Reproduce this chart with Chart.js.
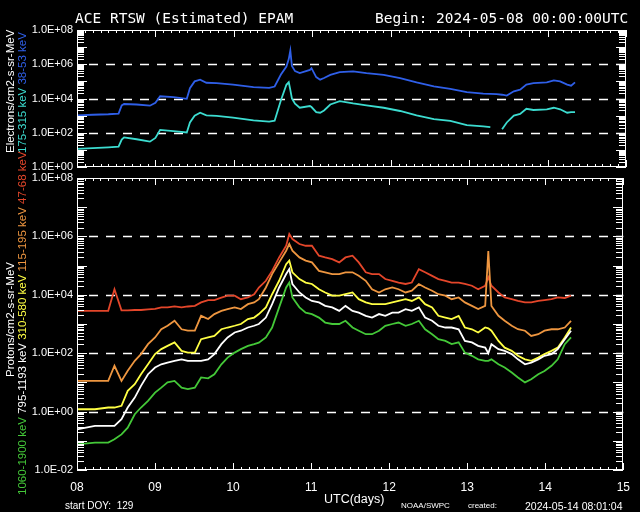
<!DOCTYPE html>
<html>
<head>
<meta charset="utf-8">
<script src="https://cdn.jsdelivr.net/npm/chart.js@4/dist/chart.umd.min.js"></script>
<style>
  html, body { margin: 0; padding: 0; background: #000; }
  #wrap { position: relative; width: 640px; height: 512px; background: #000; overflow: hidden; color: #fff; }
  #wrap canvas { position: absolute; left: 0; top: 0; }
  .t { position: absolute; white-space: nowrap; line-height: 1; }
  .mono { font-family: "DejaVu Sans Mono", monospace; }
  .sans { font-family: "Liberation Sans", "DejaVu Sans", sans-serif; }
</style>
</head>
<body>
<div id="wrap">
  <canvas id="topChart" width="640" height="512"></canvas>
  <canvas id="botChart" width="640" height="512"></canvas>
  <canvas id="frameLayer" width="640" height="512"></canvas>
  <div class="t mono" style="left:75px;top:11px;font-size:14.5px">ACE RTSW (Estimated) EPAM</div>
  <div class="t mono" style="left:375px;top:11px;font-size:14.5px">Begin: 2024-05-08 00:00:00UTC</div>
  <div class="t sans" style="left:65px;top:501px;font-size:10px">start DOY:&nbsp;&nbsp;129</div>
  <div class="t sans" style="left:324px;top:493px;font-size:12.5px">UTC(days)</div>
  <div class="t sans" style="left:401px;top:502px;font-size:8px">NOAA/SWPC</div>
  <div class="t sans" style="left:468px;top:502px;font-size:8px">created:</div>
  <div class="t sans" style="left:525px;top:501px;font-size:10.5px">2024-05-14 08:01:04</div>
</div>
<script>
// UTC day of May 2024 (fractional)
const topDays = [8.0, 8.2, 8.4, 8.53, 8.57, 8.6, 8.76, 8.93, 9.0, 9.06, 9.23, 9.4, 9.44, 9.5, 9.57,
  9.65, 9.78, 9.99, 10.25, 10.45, 10.52, 10.6, 10.67, 10.7, 10.72, 10.74, 10.78, 10.84, 10.97,
  10.99, 11.05, 11.1, 11.15, 11.23, 11.35, 11.52, 11.69, 11.91, 12.12, 12.33, 12.55, 12.76,
  12.97, 13.18, 13.27, 13.35, 13.42, 13.48, 13.57, 13.65, 13.73, 13.82, 13.99, 14.08, 14.16,
  14.25, 14.3, 14.35];

// electrons, log10(flux)
const e38 = [3.02, 3.05, 3.08, 3.12, 3.6, 3.68, 3.65, 3.58, 3.75, 4.13, 4.08, 3.98, 4.6, 5.0, 5.1,
  4.92, 4.9, 4.81, 4.67, 4.62, 4.7, 5.4, 5.87, 6.3, 6.8, 5.9, 5.6, 5.48, 5.67,
  5.77, 5.25, 5.1, 5.2, 5.38, 5.54, 5.58, 5.48, 5.38, 5.19, 4.94, 4.71, 4.56,
  4.37, 4.29, 4.27, 4.25, 4.22, 4.17, 4.42, 4.52, 4.81, 4.9, 4.94, 5.06, 5.0,
  4.81, 4.75, 4.94];
const e175 = [1.06, 1.1, 1.15, 1.19, 1.6, 1.73, 1.62, 1.48, 1.7, 2.17, 2.1, 2.02, 2.6, 3.0, 3.17,
  3.02, 2.98, 2.88, 2.72, 2.65, 2.7, 3.9, 4.8, 4.95, 4.5, 4.0, 3.7, 3.46, 3.56,
  3.5, 3.2, 3.17, 3.3, 3.65, 3.85, 3.71, 3.6, 3.46, 3.27, 3.02, 2.79, 2.69,
  2.44, 2.37, 2.33, null, 2.21, 2.6, 3.0, 3.1, 3.4, 3.33, 3.37, 3.46, 3.37,
  3.17, 3.2, 3.21];

const botDays = [8.0, 8.23, 8.4, 8.48, 8.57, 8.65, 8.74, 8.82, 8.91, 9.0, 9.08, 9.16, 9.25, 9.34,
  9.42, 9.51, 9.59, 9.68, 9.76, 9.85, 9.93, 10.02, 10.1, 10.19, 10.27,
  10.33, 10.42, 10.5, 10.59, 10.68, 10.72, 10.76, 10.85, 10.93, 11.01, 11.1, 11.18, 11.27,
  11.36, 11.44, 11.53, 11.61, 11.7, 11.78, 11.87, 11.95, 12.04, 12.12, 12.21, 12.29, 12.38,
  12.46, 12.55,
  12.63, 12.72, 12.8, 12.89, 12.97, 13.06, 13.14, 13.23, 13.27, 13.31, 13.4, 13.48, 13.57,
  13.65, 13.74, 13.82, 13.91, 13.99, 14.08, 14.16, 14.25, 14.33];

// protons, log10(flux)
const p47 = [3.45, 3.45, 3.45, 4.19, 3.47, 3.47, 3.48, 3.48, 3.5, 3.52, 3.57, 3.57, 3.6, 3.57,
  3.6, 3.62, 3.74, 3.82, 3.82, 3.9, 3.97, 3.97, 3.85, 3.91, 4.02,
  4.25, 4.48, 4.82, 5.28, 5.68, 6.08, 5.91, 5.74, 5.68, 5.68, 5.34, 5.28, 5.22,
  5.11, 5.28, 5.34, 5.11, 4.77, 4.71, 4.71, 4.54, 4.48, 4.42, 4.37, 4.42, 4.88,
  4.77, 4.65,
  4.54, 4.48, 4.42, 4.42, 4.37, 4.31, 4.19, 4.31, 4.6, 4.31, 4.08, 3.91, 3.85,
  3.79, 3.74, 3.74, 3.79, 3.82, 3.85, 3.91, 3.89, 3.97];
const p115 = [1.05, 1.05, 1.05, 1.57, 1.05, 1.4, 1.74, 1.97, 2.31, 2.54, 2.82, 2.94, 3.11, 2.82,
  2.77, 2.77, 3.28, 3.17, 3.34, 3.45, 3.51, 3.57, 3.51, 3.68, 3.74,
  3.85, 4.25, 4.71, 5.11, 5.51, 5.74, 5.51, 5.28, 5.17, 5.11, 4.82, 4.77, 4.71,
  4.71, 4.77, 4.77, 4.65, 4.48, 4.19, 4.08, 4.19, 4.25, 4.19, 4.08, 4.14, 4.37,
  4.25, 4.14,
  4.02, 3.97, 3.85, 3.91, 3.74, 3.62, 3.51, 3.62, 5.5, 3.62, 3.28, 3.11, 2.94,
  2.82, 2.77, 2.59, 2.65, 2.77, 2.82, 2.82, 2.88, 3.11];
const p310 = [0.08, 0.08, 0.14, 0.14, 0.2, 0.71, 0.94, 1.28, 1.62, 1.97, 2.14, 2.25, 2.37, 2.08,
  2.02, 2.02, 2.48, 2.54, 2.59, 2.82, 2.88, 2.94, 3.0, 3.17, 3.22,
  3.34, 3.57, 4.02, 4.48, 5.05, 5.17, 4.77, 4.54, 4.42, 4.37, 4.19, 4.08, 3.97,
  3.97, 4.02, 4.08, 3.85, 3.74, 3.68, 3.68, 3.68, 3.74, 3.79, 3.85, 3.79, 3.91,
  3.68, 3.57,
  3.28, 3.22, 3.17, 3.28, 2.88, 2.82, 2.71, 2.88, 2.85, 2.77, 2.42, 2.19, 2.08,
  1.91, 1.79, 1.74, 1.85, 1.97, 2.08, 2.19, 2.54, 2.88];
const p795 = [-0.61, -0.49, -0.49, -0.49, -0.26, 0.14, 0.48, 0.88, 1.28, 1.51, 1.62, 1.68, 1.74, 1.79,
  1.74, 1.74, 1.74, 1.79, 1.97, 2.31, 2.54, 2.71, 2.77, 2.88, 2.94,
  3.0, 3.22, 3.68, 4.25, 4.71, 4.88, 4.37, 4.08, 3.91, 3.79, 3.74, 3.62, 3.57,
  3.45, 3.62, 3.45, 3.39, 3.28, 3.22, 3.34, 3.28, 3.39, 3.39, 3.51, 3.45, 3.57,
  3.22, 3.11,
  2.94, 2.88, 2.88, 2.82, 2.42, 2.37, 2.25, 2.19, 2.0, 2.31, 2.14, 2.08, 1.97,
  1.79, 1.62, 1.68, 1.79, 1.91, 1.97, 2.14, 2.48, 2.77];
const p1060 = [-1.12, -1.06, -1.06, -0.95, -0.78, -0.55, -0.09, 0.14, 0.37, 0.65, 0.82, 1.0, 1.05, 0.82,
  0.77, 0.82, 1.17, 1.14, 1.28, 1.62, 1.85, 2.02, 2.14, 2.25, 2.31,
  2.36, 2.54, 2.88, 3.57, 4.25, 4.42, 3.91, 3.57, 3.39, 3.34, 3.22, 3.05, 3.0,
  3.0, 3.11, 2.88, 2.77, 2.65, 2.65, 2.77, 2.94, 3.0, 3.05, 2.94, 3.0, 3.11,
  2.82, 2.65,
  2.48, 2.42, 2.31, 2.37, 2.02, 1.91, 1.79, 1.74, 1.74, 1.79, 1.62, 1.51, 1.34,
  1.17, 1.0, 1.11, 1.28, 1.39, 1.57, 1.79, 2.31, 2.54];

const dayLabels = ["08", "09", "10", "11", "12", "13", "14", "15"];

Chart.defaults.font.family = '"Liberation Sans", "DejaVu Sans", sans-serif';
Chart.defaults.color = "#fff";

function pts(days, logs) {
  return days.map((d, i) => ({ x: d, y: logs[i] == null ? null : Math.pow(10, logs[i]) }));
}

function sci(v) {
  const e = Math.round(Math.log10(v));
  return "1.0E" + (e < 0 ? "-" : "+") + String(Math.abs(e)).padStart(2, "0");
}

// dashed grid under the data
const gridLines = {
  id: "gridLines",
  beforeDatasetsDraw(chart, args, opts) {
    const { ctx, chartArea: a, scales: { y } } = chart;
    ctx.save();
    ctx.strokeStyle = "#fff";
    ctx.lineWidth = 1.5;
    ctx.setLineDash([9, 8]);
    opts.at.forEach(v => {
      const py = Math.round(y.getPixelForValue(v)) + 0.5;
      ctx.beginPath();
      ctx.moveTo(a.left + 12, py);
      ctx.lineTo(a.right, py);
      ctx.stroke();
    });
    ctx.restore();
  }
};

// rotated, multi-coloured axis titles
const sideTitles = {
  id: "sideTitles",
  afterDraw(chart, args, opts) {
    const ctx = chart.ctx;
    ctx.save();
    ctx.font = '11.5px "Liberation Sans", "DejaVu Sans", sans-serif';
    ctx.textBaseline = "middle";
    opts.cols.forEach(col => {
      ctx.save();
      ctx.translate(col.x, col.y);
      ctx.rotate(-Math.PI / 2);
      let cx = 0;
      col.parts.forEach(([txt, color]) => {
        ctx.fillStyle = color;
        ctx.fillText(txt, cx, 0);
        cx += ctx.measureText(txt + " ").width;
      });
      ctx.restore();
    });
    ctx.restore();
  }
};

function line(label, days, logs, color) {
  return {
    label, data: pts(days, logs), borderColor: color, backgroundColor: color,
    borderWidth: 1.8, pointRadius: 0, spanGaps: false, tension: 0
  };
}

function yAxis(lo, hi, step) {
  const decades = [];
  for (let e = lo; e <= hi; e += step) decades.push(Math.pow(10, e));
  return {
    type: "logarithmic", min: Math.pow(10, lo), max: Math.pow(10, hi),
    afterBuildTicks: s => { s.ticks = decades.map(v => ({ value: v })); },
    afterFit: s => { s.width = 77; },
    grid: { display: false, drawTicks: false },
    border: { display: false },
    ticks: { color: "#fff", font: { size: 11 }, padding: 4, autoSkip: false, callback: v => sci(v) }
  };
}

const topChart = new Chart(document.getElementById("topChart"), {
  type: "line",
  data: {
    datasets: [
      line("38-53 keV", topDays, e38, "#2f5fe8"),
      line("175-315 keV", topDays, e175, "#3cdcd0")
    ]
  },
  options: {
    responsive: false, animation: false, events: [],
    layout: { padding: { top: 30, right: 14, bottom: 345, left: 0 } },
    scales: {
      x: { type: "linear", min: 8, max: 15, display: false },
      y: yAxis(0, 8, 2)
    },
    plugins: {
      legend: { display: false }, tooltip: { enabled: false },
      gridLines: { at: [1e2, 1e4, 1e6] },
      sideTitles: {
        cols: [
          { x: 11, y: 153, parts: [["Electrons/cm2-s-sr-MeV", "#fff"]] },
          { x: 23, y: 153, parts: [["175-315 keV", "#3cdcd0"], ["38-53 keV", "#2f5fe8"]] }
        ]
      }
    }
  },
  plugins: [gridLines, sideTitles]
});

const botChart = new Chart(document.getElementById("botChart"), {
  type: "line",
  data: {
    datasets: [
      line("1060-1900 keV", botDays, p1060, "#44c838"),
      line("795-1193 keV", botDays, p795, "#ffffff"),
      line("310-580 keV", botDays, p310, "#ffff44"),
      line("115-195 keV", botDays, p115, "#ee9640"),
      line("47-68 keV", botDays, p47, "#e4462a")
    ]
  },
  options: {
    responsive: false, animation: false, events: [],
    layout: { padding: { top: 178, right: 14, bottom: 12, left: 0 } },
    scales: {
      x: {
        type: "linear", min: 8, max: 15,
        afterFit: s => { s.height = 30; },
        grid: { display: false, drawTicks: false },
        border: { display: false },
        ticks: {
          stepSize: 1, autoSkip: false, maxRotation: 0, padding: 10,
          color: "#fff", font: { size: 12 },
          callback: v => dayLabels[v - 8]
        }
      },
      y: yAxis(-2, 8, 2)
    },
    plugins: {
      legend: { display: false }, tooltip: { enabled: false },
      gridLines: { at: [1e0, 1e2, 1e4, 1e6] },
      sideTitles: {
        cols: [
          { x: 11, y: 377, parts: [["Protons/cm2-s-sr-MeV", "#fff"]] },
          { x: 23, y: 495, parts: [["1060-1900 keV", "#44c838"], ["795-1193 keV", "#ffffff"],
            ["310-580 keV", "#ffff44"], ["115-195 keV", "#ee9640"], ["47-68 keV", "#e4462a"]] }
        ]
      }
    }
  },
  plugins: [gridLines, sideTitles]
});

// box with inward ticks, on its own layer above both charts,
// placed with the charts' own scales
const fctx = document.getElementById("frameLayer").getContext("2d");
function drawFrame(chart, lo, hi) {
  const a = chart.chartArea;
  const xs = chart.scales.x, ys = chart.scales.y;
  const L = Math.round(a.left), R = Math.round(a.right);
  const T = Math.round(a.top), B = Math.round(a.bottom);
  fctx.fillStyle = "#fff";
  fctx.fillRect(L, T, R - L, 1);
  fctx.fillRect(L, B - 1, R - L, 1);
  fctx.fillRect(L, T, 1, B - T);
  fctx.fillRect(R - 1, T, 1, B - T);
  for (let i = 0; i <= 70; i++) {
    const px = Math.round(xs.getPixelForValue(8 + i / 10));
    const len = i % 10 === 0 ? 7 : 3;
    fctx.fillRect(px, T, 1, len);
    fctx.fillRect(px, B - len, 1, len);
  }
  for (let e = lo; e < hi; e++) {
    for (let m = 1; m <= 9; m++) {
      const py = Math.round(ys.getPixelForValue(m * Math.pow(10, e)));
      const len = m === 1 ? 10 : 7;
      fctx.fillRect(L, py, len, 1);
      fctx.fillRect(R - len, py, len, 1);
    }
  }
}
drawFrame(topChart, 0, 8);
drawFrame(botChart, -2, 8);
</script>
</body>
</html>
